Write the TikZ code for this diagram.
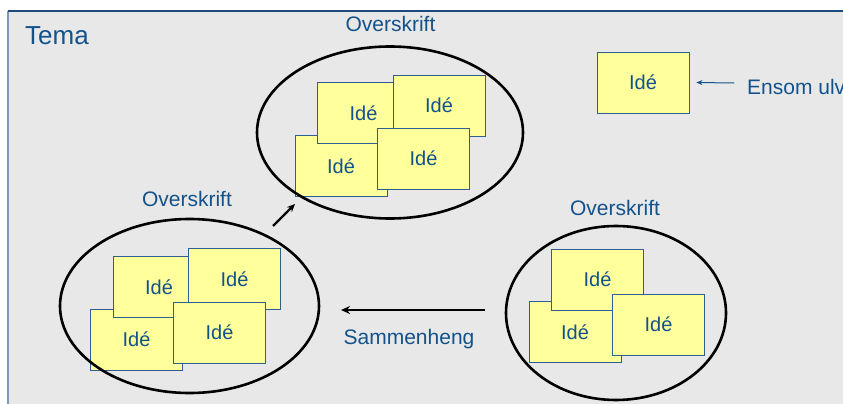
\documentclass[tikz,border=0pt]{standalone}
\usepackage{fontspec}
\setmainfont{Liberation Sans}
\usetikzlibrary{arrows.meta}
\definecolor{txtblue}{RGB}{20,82,140}
\definecolor{boxedge}{RGB}{45,95,145}
\definecolor{note}{RGB}{255,255,155}
\definecolor{bg}{RGB}{232,232,232}
\definecolor{topline}{RGB}{30,75,125}
\definecolor{leftline}{RGB}{120,155,190}
\begin{document}
\begin{tikzpicture}[x=1pt,y=-1pt,
  idea/.style={draw=boxedge,line width=0.8pt,fill=note,minimum width=92pt,minimum height=61pt,
    inner sep=0pt,text=txtblue,font=\fontsize{20}{24}\selectfont},
  label/.style={text=txtblue,inner sep=0pt,anchor=base,font=\fontsize{21}{25}\selectfont},
  group/.style={draw=black,line width=2.6pt},
  bigarrow/.style={draw=black,line width=2.7pt,-{Stealth[length=9pt,width=8pt]}},
  midarrow/.style={draw=black,line width=2.2pt,-{Stealth[length=8pt,width=7pt]}},
  thinarrow/.style={draw=txtblue,line width=1pt,-{Stealth[length=6pt,width=5pt]}}]
\useasboundingbox (0,0) rectangle (843,404);
\clip (0,0) rectangle (843,404);
% background frame
\fill[bg] (8,11) rectangle (843,404);
\draw[leftline,line width=1.5pt] (8,11) -- (8,404);
\draw[topline,line width=1.5pt] (8,11) -- (843,11);
% title
\node[label,anchor=base west,font=\fontsize{26}{30}\selectfont] (tema) at (25,45) {Tema};
% top group
\node[idea] (t3) at (341,166) {Idé};
\node[idea] (t1) at (363.5,113) {Idé};
\node[idea] (t2) at (439,105.5) {Idé};
\node[idea] (t4) at (423.5,158.5) {Idé};
\draw[group] (390,132.5) ellipse [x radius=133, y radius=86];
\coordinate (topgrp) at (295,204);
\node[label] (ot) at (390.5,32) {Overskrift};
% left group
\node[idea] (l3) at (136.5,339.5) {Idé};
\node[idea] (l1) at (159,287) {Idé};
\node[idea] (l2) at (234.5,279) {Idé};
\node[idea] (l4) at (219.5,332.5) {Idé};
\draw[group] (189.5,306) ellipse [x radius=129.5, y radius=87];
\coordinate (leftgrp) at (273,226);
\coordinate (leftend) at (341,310);
\node[label] (ol) at (187,206) {Overskrift};
% right group
\node[idea] (r3) at (575,332) {Idé};
\node[idea] (r1) at (597.5,279.5) {Idé};
\node[idea] (r4) at (658.5,324.5) {Idé};
\draw[group] (616,313) ellipse [x radius=110, y radius=87];
\coordinate (rightstart) at (485,310);
\node[label] (or) at (615,215) {Overskrift};
% arrows
\draw[midarrow] (leftgrp) -- (topgrp);
\draw[bigarrow] (rightstart) -- (leftend);
\node[label] (samm) at (409,344) {Sammenheng};
% lone idea
\node[idea] (lone) at (643,82.5) {Idé};
\node[label,anchor=base west] (ensom) at (747,94) {Ensom ulv};
\coordinate (ensomarr) at (734,83);
\draw[thinarrow] (ensomarr) -- ([xshift=7pt]lone.east);
\end{tikzpicture}
\end{document}
